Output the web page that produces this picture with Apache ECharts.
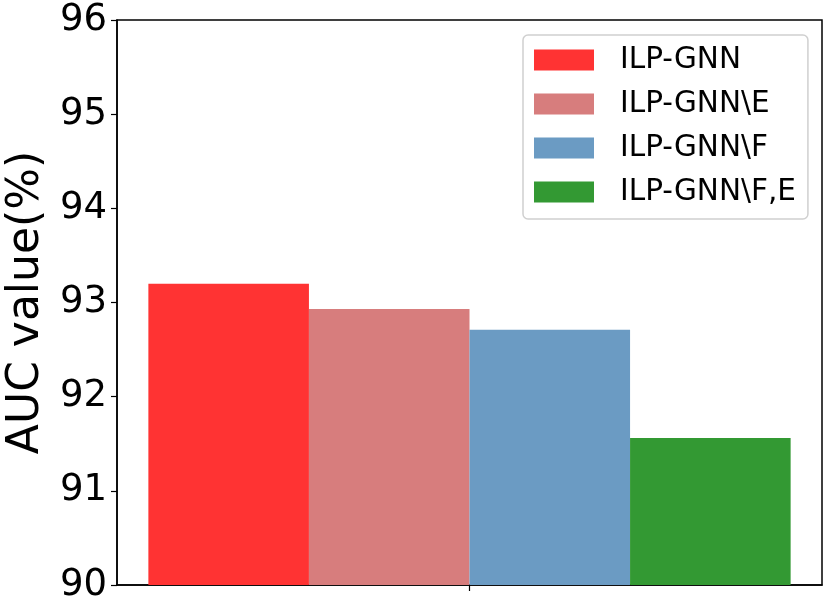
<!DOCTYPE html>
<html><head><meta charset="utf-8">
<script src="https://cdn.jsdelivr.net/npm/echarts@6/dist/echarts.min.js"></script>
<style>html,body{margin:0;padding:0;background:#fff}#c{width:831px;height:605px}</style>
</head><body><div id="c"></div>
<script>
const categories = [''];
const seriesNames = ['ILP-GNN', 'ILP-GNN\\E', 'ILP-GNN\\F', 'ILP-GNN\\F,E'];
const seriesValues = [93.20, 92.93, 92.71, 91.56];
const seriesColors = ['#ff3333', '#d77d7d', '#6b9bc3', '#339933'];
const yTicks = [90, 91, 92, 93, 94, 95, 96];
const yAxisTitle = 'AUC value(%)';

const chart = echarts.init(document.getElementById('c'));
const font = 'DejaVu Sans';
chart.setOption({
  animation: false,
  textStyle: { fontFamily: font },
  grid: { left: 117, right: 9, top: 20, bottom: 20, containLabel: false, outerBoundsMode: 'none',
    show: true, borderColor: '#000', borderWidth: 1.5, backgroundColor: 'transparent' },
  legend: {
    orient: 'vertical', left: 523, top: 35,
    padding: [10, 12, 12, 11],
    borderColor: '#d0d0d0', borderWidth: 1.5, borderRadius: 5,
    backgroundColor: '#fff',
    itemWidth: 60, itemHeight: 21, itemGap: 14,
    icon: 'rect',
    textStyle: { fontFamily: font, fontSize: 29.5, color: '#000', padding: [0, 0, 0, 21] },
    data: seriesNames
  },
  xAxis: {
    type: 'category', data: categories,
    axisLine: { show: true, lineStyle: { color: '#000', width: 1.5 } },
    axisTick: { show: true, alignWithLabel: true, length: 6, lineStyle: { color: '#000', width: 1.2 } },
    axisLabel: { show: false }
  },
  yAxis: {
    type: 'value', min: yTicks[0], max: yTicks[yTicks.length - 1], interval: 1,
    name: yAxisTitle, nameLocation: 'middle', nameGap: 65, nameRotate: 90,
    nameTextStyle: { fontFamily: font, fontSize: 44, color: '#000' },
    splitLine: { show: false },
    axisLine: { show: true, lineStyle: { color: '#000', width: 1.5 } },
    axisTick: { show: true, length: 6, lineStyle: { color: '#000', width: 1.2 } },
    axisLabel: { fontFamily: font, fontSize: 37, color: '#000', margin: 10 }
  },
  series: seriesNames.map((n, i) => ({
    name: n, type: 'bar', data: [seriesValues[i]],
    itemStyle: { color: seriesColors[i] },
    barGap: '0%', barCategoryGap: '8.9%'
  }))
});
</script></body></html>
